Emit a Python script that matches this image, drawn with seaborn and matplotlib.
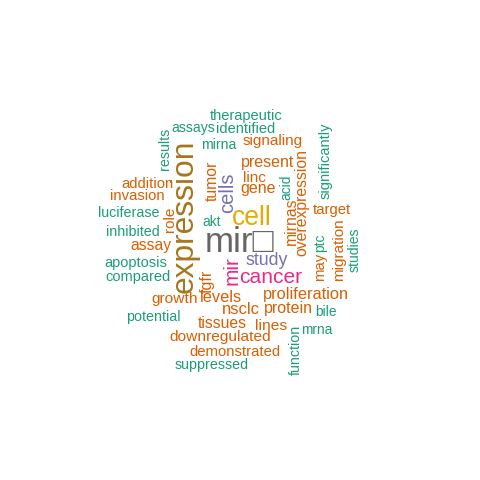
import matplotlib
matplotlib.use("Agg")
import matplotlib.pyplot as plt
import seaborn as sns

# ---- data: words and their frequencies ----
words = ["therapeutic", "assays", "identified", "results", "mirna", "signaling",
         "expression", "present", "linc", "significantly", "tumor", "gene", "acid",
         "addition", "invasion", "cells", "luciferase", "akt", "cell", "target",
         "role", "inhibited", "mirnas", "overexpression", "assay", "mir\u25a1",
         "may", "ptc", "migration", "studies", "apoptosis", "fgfr", "mir", "study",
         "compared", "cancer", "growth", "levels", "proliferation", "potential",
         "nsclc", "protein", "bile", "tissues", "lines", "mrna", "downregulated",
         "function", "demonstrated", "suppressed"]
freqs = [10, 8, 10, 9, 8, 12,
         69, 15, 12, 10, 14, 15, 7,
         11, 11, 29, 9, 7, 51, 11,
         12, 9, 14, 14, 14, 80,
         11, 7, 12, 8, 10, 15, 31, 21,
         10, 32, 13, 16, 16, 9,
         17, 15, 7, 14, 13, 7, 13,
         9, 11, 9]

# ---- layout of the cloud (word anchor = centre of baseline, pixel space) ----
pos_x = [246, 193, 245.5, 168.5, 219, 272.5,
         193, 267.5, 254.5, 330, 216.5, 258, 290,
         147, 137, 233, 129, 212, 252, 332,
         174, 133, 296, 306, 151, 239.5,
         324, 324, 343, 358.5, 136, 211.5, 238, 267,
         137.5, 271, 175, 221, 306, 153.5,
         241, 288, 325.5, 222, 271, 317, 220.5,
         300, 235, 212]
pos_y = [120, 132, 133, 149, 149, 145,
         216, 166.5, 182.5, 161, 181, 193.5, 187.5,
         187.5, 200, 193, 217, 225.5, 225, 214,
         219, 236.5, 221.5, 203, 250, 252,
         267, 242.5, 250, 250, 266.5, 281.5, 271, 265,
         281, 283, 303, 302.5, 299, 321.5,
         314.5, 312.5, 316.5, 327.5, 329.5, 333.5, 341.5,
         350, 356.5, 368.5]
vertical = [0, 0, 0, 1, 0, 0,
            1, 0, 0, 1, 1, 0, 1,
            0, 0, 1, 0, 0, 0, 0,
            1, 0, 1, 1, 0, 0,
            1, 1, 1, 1, 0, 1, 1, 0,
            0, 0, 0, 0, 0, 0,
            0, 0, 0, 0, 0, 0, 0,
            1, 0, 0]

sns.set_theme(style="white")
plt.rcParams["font.family"] = ["Liberation Sans", "DejaVu Sans"]

palette = sns.color_palette("Dark2", 8)
fmax = max(freqs)
min_px, max_px = 11.7, 35.0   # em size in pixels (wordcloud-like linear scale)

fig = plt.figure(figsize=(4.8, 4.8), dpi=100)
ax = fig.add_axes([0, 0, 1, 1])
ax.set_xlim(0, 480)
ax.set_ylim(480, 0)
ax.axis("off")

for w, f, x, y, v in zip(words, freqs, pos_x, pos_y, vertical):
    px = min_px + (max_px - min_px) * f / fmax
    idx = -(-len(palette) * f // fmax) - 1
    ax.text(x, y, w, fontsize=px * 72 / fig.dpi, color=palette[idx],
            rotation=90 if v else 0, rotation_mode="anchor",
            ha="center", va="baseline")

fig.savefig("out.png", dpi=100, facecolor="white")
